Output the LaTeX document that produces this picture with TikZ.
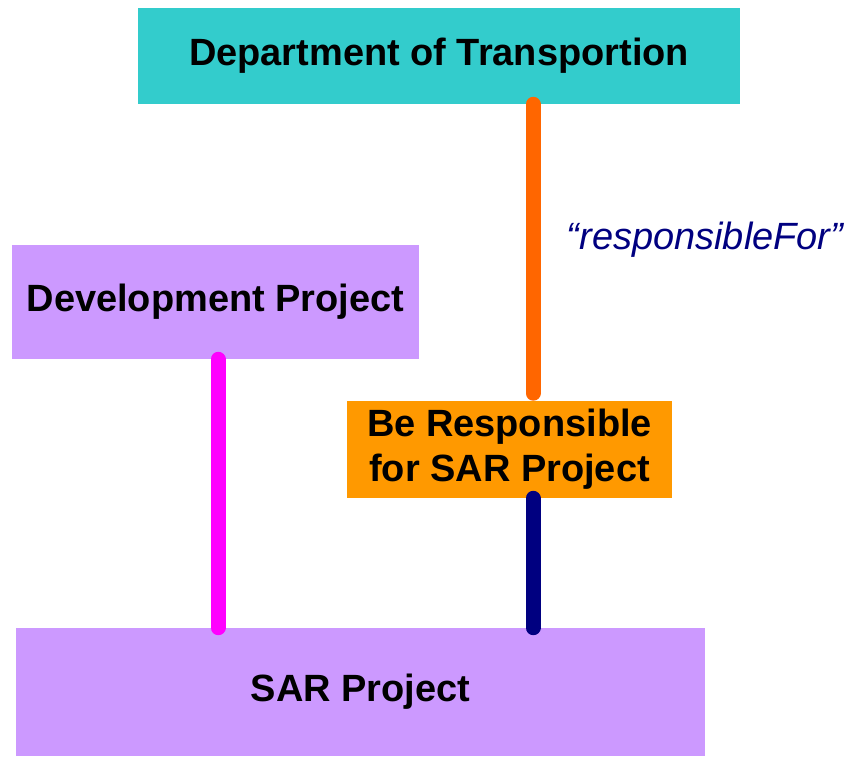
\documentclass[tikz,border=0pt]{standalone}
\usepackage{fontspec}
\setmainfont{Liberation Sans}
\usepackage{xcolor}
\usetikzlibrary{positioning,calc}
\definecolor{deptteal}{HTML}{33CCCC}
\definecolor{projlilac}{HTML}{CC99FF}
\definecolor{roleorange}{HTML}{FF9900}
\definecolor{linkorange}{HTML}{FF6600}
\definecolor{linkmagenta}{HTML}{FF00FF}
\definecolor{linknavy}{HTML}{000080}

\begin{document}
\begin{tikzpicture}[
    x=0.025cm, y=-0.025cm,
    box/.style={inner sep=0pt, align=center, font=\fontsize{27}{32}\selectfont\bfseries},
    link/.style={line width=0.375cm, line cap=round},
    rolelabel/.style={font=\fontsize{27}{32}\selectfont\itshape, text=linknavy}
]
\useasboundingbox (0,0) rectangle (848,756);

\node[box, fill=deptteal, minimum width=15.05cm, minimum height=2.4cm] (dept) at (439,56) {Department of Transportion};
\node[box, fill=projlilac, minimum width=10.175cm, minimum height=2.85cm] (dev) at (215.5,302) {Development Project};
\node[box, fill=roleorange, minimum width=8.125cm, minimum height=2.425cm] (resp) at (509.5,449.5) {Be Responsible\\for SAR Project};
\node[box, fill=projlilac, minimum width=17.225cm, minimum height=3.2cm] (sar) at (360.5,692) {SAR Project};
\node[rolelabel] (lbl) at (705,240) {“responsibleFor”};

\coordinate (rx) at (533,0);
\coordinate (dx) at (218,0);
\draw[link, linkorange, shorten >=0.1875cm] (dept.south -| rx) -- (resp.north -| rx);
\draw[link, linknavy] (resp.south -| rx) -- (sar.north -| rx);
\draw[link, linkmagenta] (dev.south -| dx) -- (sar.north -| dx);
\end{tikzpicture}
\end{document}
